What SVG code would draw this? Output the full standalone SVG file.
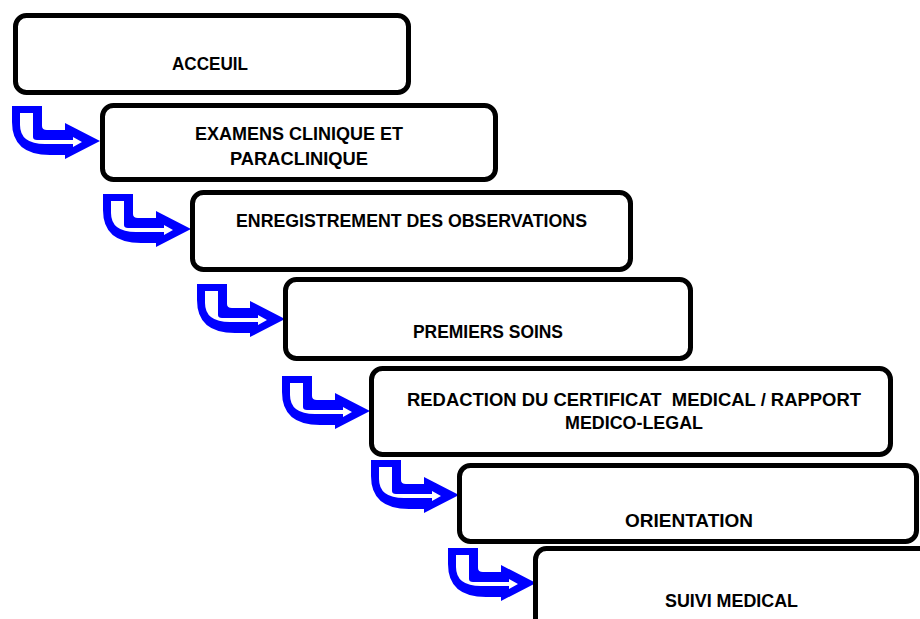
<svg xmlns="http://www.w3.org/2000/svg" xmlns:xlink="http://www.w3.org/1999/xlink" width="920" height="619" viewBox="0 0 920 619">
  <style>
    .box { fill: #ffffff; stroke: #000000; stroke-width: 5; }
    .label { font-family: "Liberation Sans", Arial, sans-serif; font-weight: bold; font-size: 19px; fill: #000000; text-anchor: middle; }
    .arrow-outer { fill: #0000ff; }
    .arrow-inner { fill: #ffffff; }
  </style>
  <defs>
    <!-- hollow bent arrow: blue body with a thin white core -->
    <g id="bent-arrow">
      <path class="arrow-outer" d="M0,0 H30 V20 Q30,24 35,24 H53 V17 L88,35 L53,53 V49 H38 Q0,49 0,16 Z"/>
      <path class="arrow-inner" d="M8,7 H21 V31 Q21,34 25,34 H61 V31 L70,36 L61,41 V38 H33 Q8,38 8,19 Z"/>
    </g>
  </defs>
  <rect width="920" height="619" fill="#ffffff"/>

  <g id="connectors">
    <use xlink:href="#bent-arrow" transform="translate(12,106)"/>
    <use xlink:href="#bent-arrow" transform="translate(103,194)"/>
    <use xlink:href="#bent-arrow" transform="translate(197,284)"/>
    <use xlink:href="#bent-arrow" transform="translate(282,376)"/>
    <use xlink:href="#bent-arrow" transform="translate(371,460)"/>
    <use xlink:href="#bent-arrow" transform="translate(448,548)"/>
  </g>

  <g id="accueil">
    <rect class="box" x="15.5" y="15.5" width="393" height="77" rx="11"/>
    <text class="label" x="210" y="70" textLength="76" lengthAdjust="spacingAndGlyphs">ACCEUIL</text>
  </g>

  <g id="examens">
    <rect class="box" x="102.5" y="105.5" width="393" height="74" rx="11"/>
    <text class="label" x="299" y="140" textLength="208" lengthAdjust="spacingAndGlyphs">EXAMENS CLINIQUE ET</text>
    <text class="label" x="299" y="165" textLength="138" lengthAdjust="spacingAndGlyphs">PARACLINIQUE</text>
  </g>

  <g id="enregistrement">
    <rect class="box" x="192.5" y="192.5" width="438" height="77" rx="11"/>
    <text class="label" x="411.5" y="227" textLength="351" lengthAdjust="spacingAndGlyphs">ENREGISTREMENT DES OBSERVATIONS</text>
  </g>

  <g id="premiers-soins">
    <rect class="box" x="285.5" y="279.5" width="405" height="79" rx="11"/>
    <text class="label" x="488" y="338" textLength="150" lengthAdjust="spacingAndGlyphs">PREMIERS SOINS</text>
  </g>

  <g id="redaction">
    <rect class="box" x="371.5" y="368.5" width="519" height="86" rx="11"/>
    <text class="label" x="634" y="406" xml:space="preserve" textLength="454" lengthAdjust="spacingAndGlyphs">REDACTION DU CERTIFICAT  MEDICAL / RAPPORT</text>
    <text class="label" x="634" y="429" textLength="138" lengthAdjust="spacingAndGlyphs">MEDICO-LEGAL</text>
  </g>

  <g id="orientation">
    <rect class="box" x="459.5" y="465.5" width="457" height="76" rx="11"/>
    <text class="label" x="689" y="527" textLength="128" lengthAdjust="spacingAndGlyphs">ORIENTATION</text>
  </g>

  <g id="suivi-medical">
    <rect class="box" x="535.5" y="548.5" width="420" height="100" rx="11"/>
    <text class="label" x="731.5" y="607" textLength="133" lengthAdjust="spacingAndGlyphs">SUIVI MEDICAL</text>
  </g>
</svg>
